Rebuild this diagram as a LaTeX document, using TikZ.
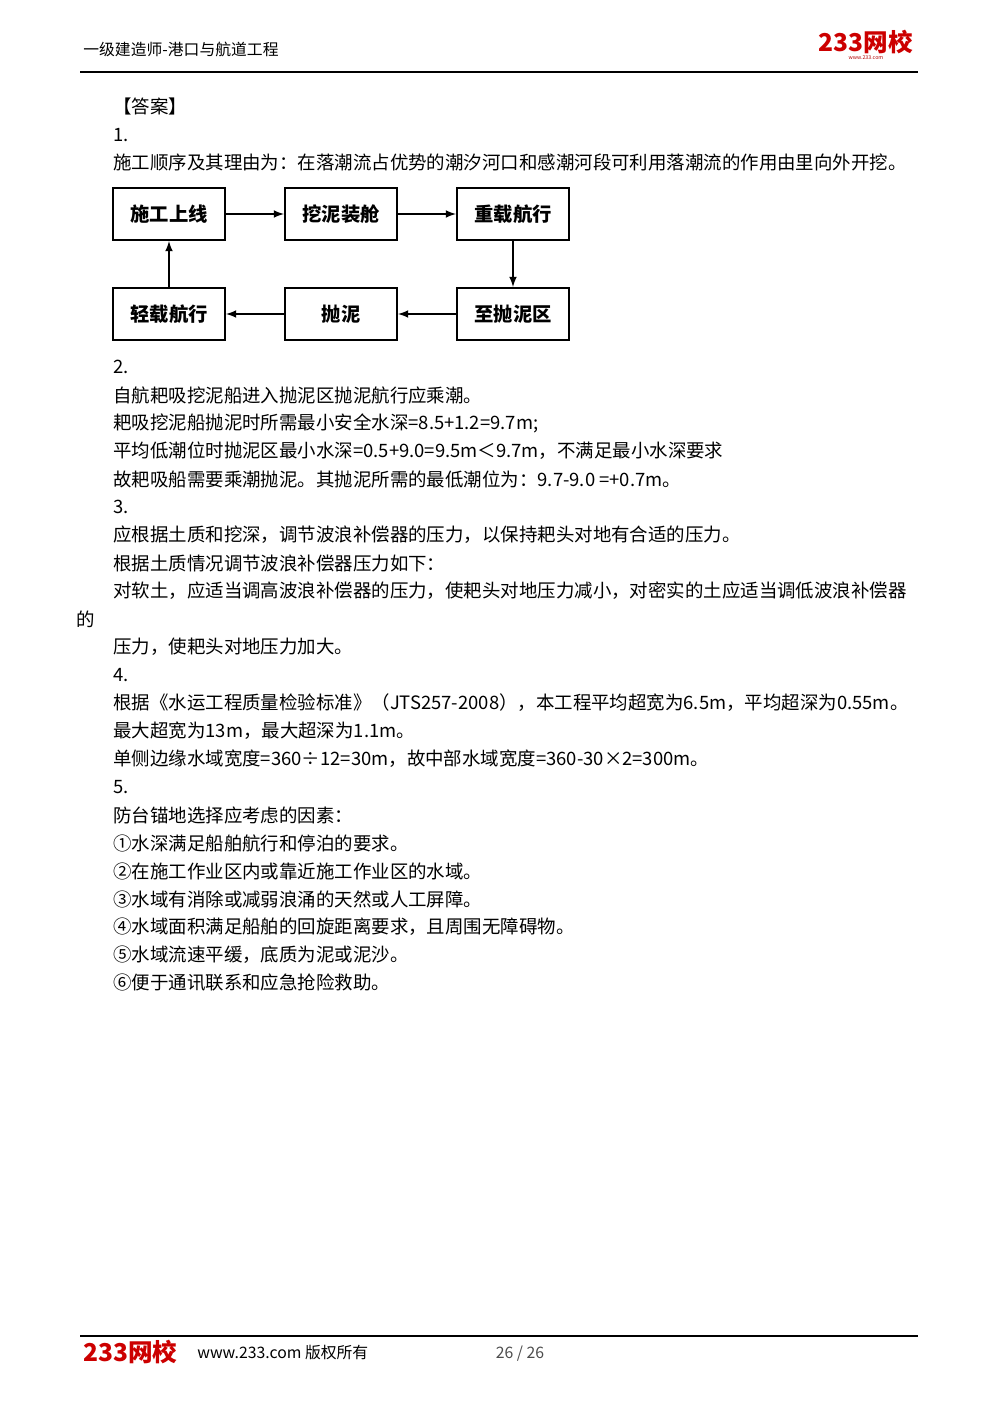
\documentclass[tikz,border=0pt]{standalone}
\usepackage{fontspec}
\setmainfont{Noto Sans CJK SC}
\begin{document}
\begin{tikzpicture}[x=0.02cm,y=-0.02cm,
  tx/.style={anchor=west,inner sep=0pt,font=\fontsize{10.5pt}{12pt}\selectfont},
  bx/.style={draw,line width=1.2pt,minimum width=2.24cm,minimum height=1.04cm,font=\fontsize{11pt}{12pt}\selectfont\bfseries},
  ar/.style={-latex,line width=1pt}]
\useasboundingbox (0,0) rectangle (1000,1415);
\node[tx,font=\fontsize{9pt}{10pt}\selectfont] (h) at (83,49) {一级建造师-港口与航道工程};
\node[anchor=center,inner sep=0pt,text=red!80!black,font=\fontsize{14pt}{15pt}\selectfont\bfseries\itshape] (lg) at (866,42) {233网校};
\node[inner sep=0pt,font=\fontsize{3pt}{3pt}\selectfont,text=red!70!black] (lw) at (866,58) {www.233.com};
\draw[line width=0.8pt] (80,72) -- (918,72);
\node[tx] (t1) at (113,106) {【答案】};
\node[tx] (t2) at (113,135) {1.};
\node[tx] (t3) at (113,162) {施工顺序及其理由为：在落潮流占优势的潮汐河口和感潮河段可利用落潮流的作用由里向外开挖。};
\node[bx] (a) at (169,214) {施工上线};
\node[bx] (b) at (341,214) {挖泥装舱};
\node[bx] (c) at (513,214) {重载航行};
\node[bx] (d) at (513,314) {至抛泥区};
\node[bx] (e) at (341,314) {抛泥};
\node[bx] (f) at (169,314) {轻载航行};
\draw[ar] (a) -- (b); \draw[ar] (b) -- (c); \draw[ar] (c) -- (d);
\draw[ar] (d) -- (e); \draw[ar] (e) -- (f); \draw[ar] (f) -- (a);
\node[tx] (l1) at (113,367) {2.};
\node[tx] (l2) at (113,395) {自航耙吸挖泥船进入抛泥区抛泥航行应乘潮。};
\node[tx] (l3) at (113,423) {耙吸挖泥船抛泥时所需最小安全水深=8.5+1.2=9.7m;};
\node[tx] (l4) at (113,451) {平均低潮位时抛泥区最小水深=0.5+9.0=9.5m＜9.7m，不满足最小水深要求};
\node[tx] (l5) at (113,479) {故耙吸船需要乘潮抛泥。其抛泥所需的最低潮位为：9.7-9.0 =+0.7m。};
\node[tx] (l6) at (113,507) {3.};
\node[tx] (l7) at (113,535) {应根据土质和挖深，调节波浪补偿器的压力，以保持耙头对地有合适的压力。};
\node[tx] (l8) at (113,563) {根据土质情况调节波浪补偿器压力如下：};
\node[tx] (l9) at (113,591) {对软土，应适当调高波浪补偿器的压力，使耙头对地压力减小，对密实的土应适当调低波浪补偿器};
\node[tx] (l10) at (76,619) {的};
\node[tx] (l11) at (113,647) {压力，使耙头对地压力加大。};
\node[tx] (l12) at (113,675) {4.};
\node[tx] (l13) at (113,703) {根据《水运工程质量检验标准》（JTS257-2008），本工程平均超宽为6.5m，平均超深为0.55m。};
\node[tx] (l14) at (113,731) {最大超宽为13m，最大超深为1.1m。};
\node[tx] (l15) at (113,759) {单侧边缘水域宽度=360÷12=30m，故中部水域宽度=360-30×2=300m。};
\node[tx] (l16) at (113,787) {5.};
\node[tx] (l17) at (113,815) {防台锚地选择应考虑的因素：};
\node[tx] (l18) at (113,843) {①水深满足船舶航行和停泊的要求。};
\node[tx] (l19) at (113,871) {②在施工作业区内或靠近施工作业区的水域。};
\node[tx] (l20) at (113,899) {③水域有消除或减弱浪涌的天然或人工屏障。};
\node[tx] (l21) at (113,927) {④水域面积满足船舶的回旋距离要求，且周围无障碍物。};
\node[tx] (l22) at (113,955) {⑤水域流速平缓，底质为泥或泥沙。};
\node[tx] (l23) at (113,983) {⑥便于通讯联系和应急抢险救助。};
\draw[line width=0.8pt] (80,1336) -- (918,1336);
\node[anchor=west,inner sep=0pt,text=red!80!black,font=\fontsize{14pt}{15pt}\selectfont\bfseries\itshape] (fl) at (83,1352) {233网校};
\node[tx,font=\fontsize{9pt}{10pt}\selectfont] (fw) at (197,1352) {www.233.com 版权所有};
\node[inner sep=0pt,font=\fontsize{9pt}{10pt}\selectfont,text=black!70] (pg) at (520,1354) {26 / 26};
\end{tikzpicture}
\end{document}
